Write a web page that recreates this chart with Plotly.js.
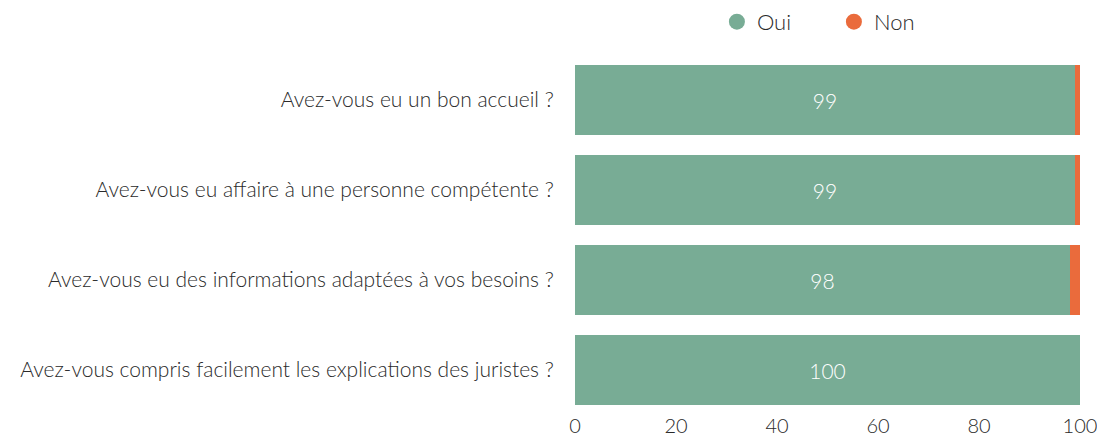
<!DOCTYPE html>
<html>
<head>
<meta charset="utf-8">
<script src="https://cdn.plot.ly/plotly-3.0.1.min.js"></script>
<style>html,body{margin:0;padding:0;background:#fff;}</style>
</head>
<body>
<div id="chart" style="width:1097px;height:436px;"></div>
<script>
const categories = [
  "Avez-vous eu un bon accueil ?",
  "Avez-vous eu affaire à une personne compétente ?",
  "Avez-vous eu des informations adaptées à vos besoins ?",
  "Avez-vous compris facilement les explications des juristes ?"
];
const ouiValues = [99, 99, 98, 100];
const nonValues = [1, 1, 2, 0];
const seriesNames = ["Oui", "Non"];
const xTicks = [0, 20, 40, 60, 80, 100];

const GREEN = "#78ac95";
const ORANGE = "#ea6b3c";
const FONT = "Lato";
const TXT = "#2a2a2a";

const traces = [
  {
    type: "bar", orientation: "h", name: seriesNames[0],
    y: categories, x: ouiValues,
    marker: {color: GREEN},
    text: ouiValues.map(String), textposition: "inside", insidetextanchor: "middle",
    textfont: {family: FONT, size: 21, color: "#ffffff", weight: 300},
    showlegend: false, hoverinfo: "x+y"
  },
  {
    type: "bar", orientation: "h", name: seriesNames[1],
    y: categories, x: nonValues,
    marker: {color: ORANGE},
    textposition: "none",
    showlegend: false, hoverinfo: "x+y"
  },
  {
    type: "scatter", mode: "markers", name: seriesNames[0],
    x: [null], y: [null], marker: {color: GREEN, size: 24, symbol: "circle"},
    showlegend: true
  },
  {
    type: "scatter", mode: "markers", name: seriesNames[1],
    x: [null], y: [null], marker: {color: ORANGE, size: 24, symbol: "circle"},
    showlegend: true
  }
];

const layout = {
  width: 1097, height: 436,
  margin: {l: 575, r: 17, t: 55, b: 21, autoexpand: false},
  barmode: "stack",
  bargap: 0.22,
  paper_bgcolor: "#ffffff", plot_bgcolor: "#ffffff",
  font: {family: FONT, size: 21, color: TXT, weight: 300},
  showlegend: true,
  legend: {
    orientation: "h", traceorder: "normal",
    x: 0.281, xanchor: "left", y: 1.092, yanchor: "middle",
    yref: "paper", font: {family: FONT, size: 22, color: TXT, weight: 300},
    itemsizing: "trace", entrywidth: 72, entrywidthmode: "pixels"
  },
  xaxis: {
    range: [0, 100], tickvals: xTicks, ticktext: xTicks.map(String),
    showgrid: false, zeroline: false, showline: false, ticks: "",
    ticklabeloverflow: "allow", ticklabelstandoff: -3,
    tickfont: {family: FONT, size: 20, color: TXT, weight: 300},
    fixedrange: true
  },
  yaxis: {
    autorange: "reversed", showgrid: false, zeroline: false, showline: false,
    ticks: "outside", ticklen: 16, tickcolor: "rgba(0,0,0,0)",
    tickfont: {family: FONT, size: 21, color: TXT, weight: 300},
    fixedrange: true
  }
};

Plotly.newPlot("chart", traces, layout, {displayModeBar: false, staticPlot: true});
</script>
</body>
</html>
